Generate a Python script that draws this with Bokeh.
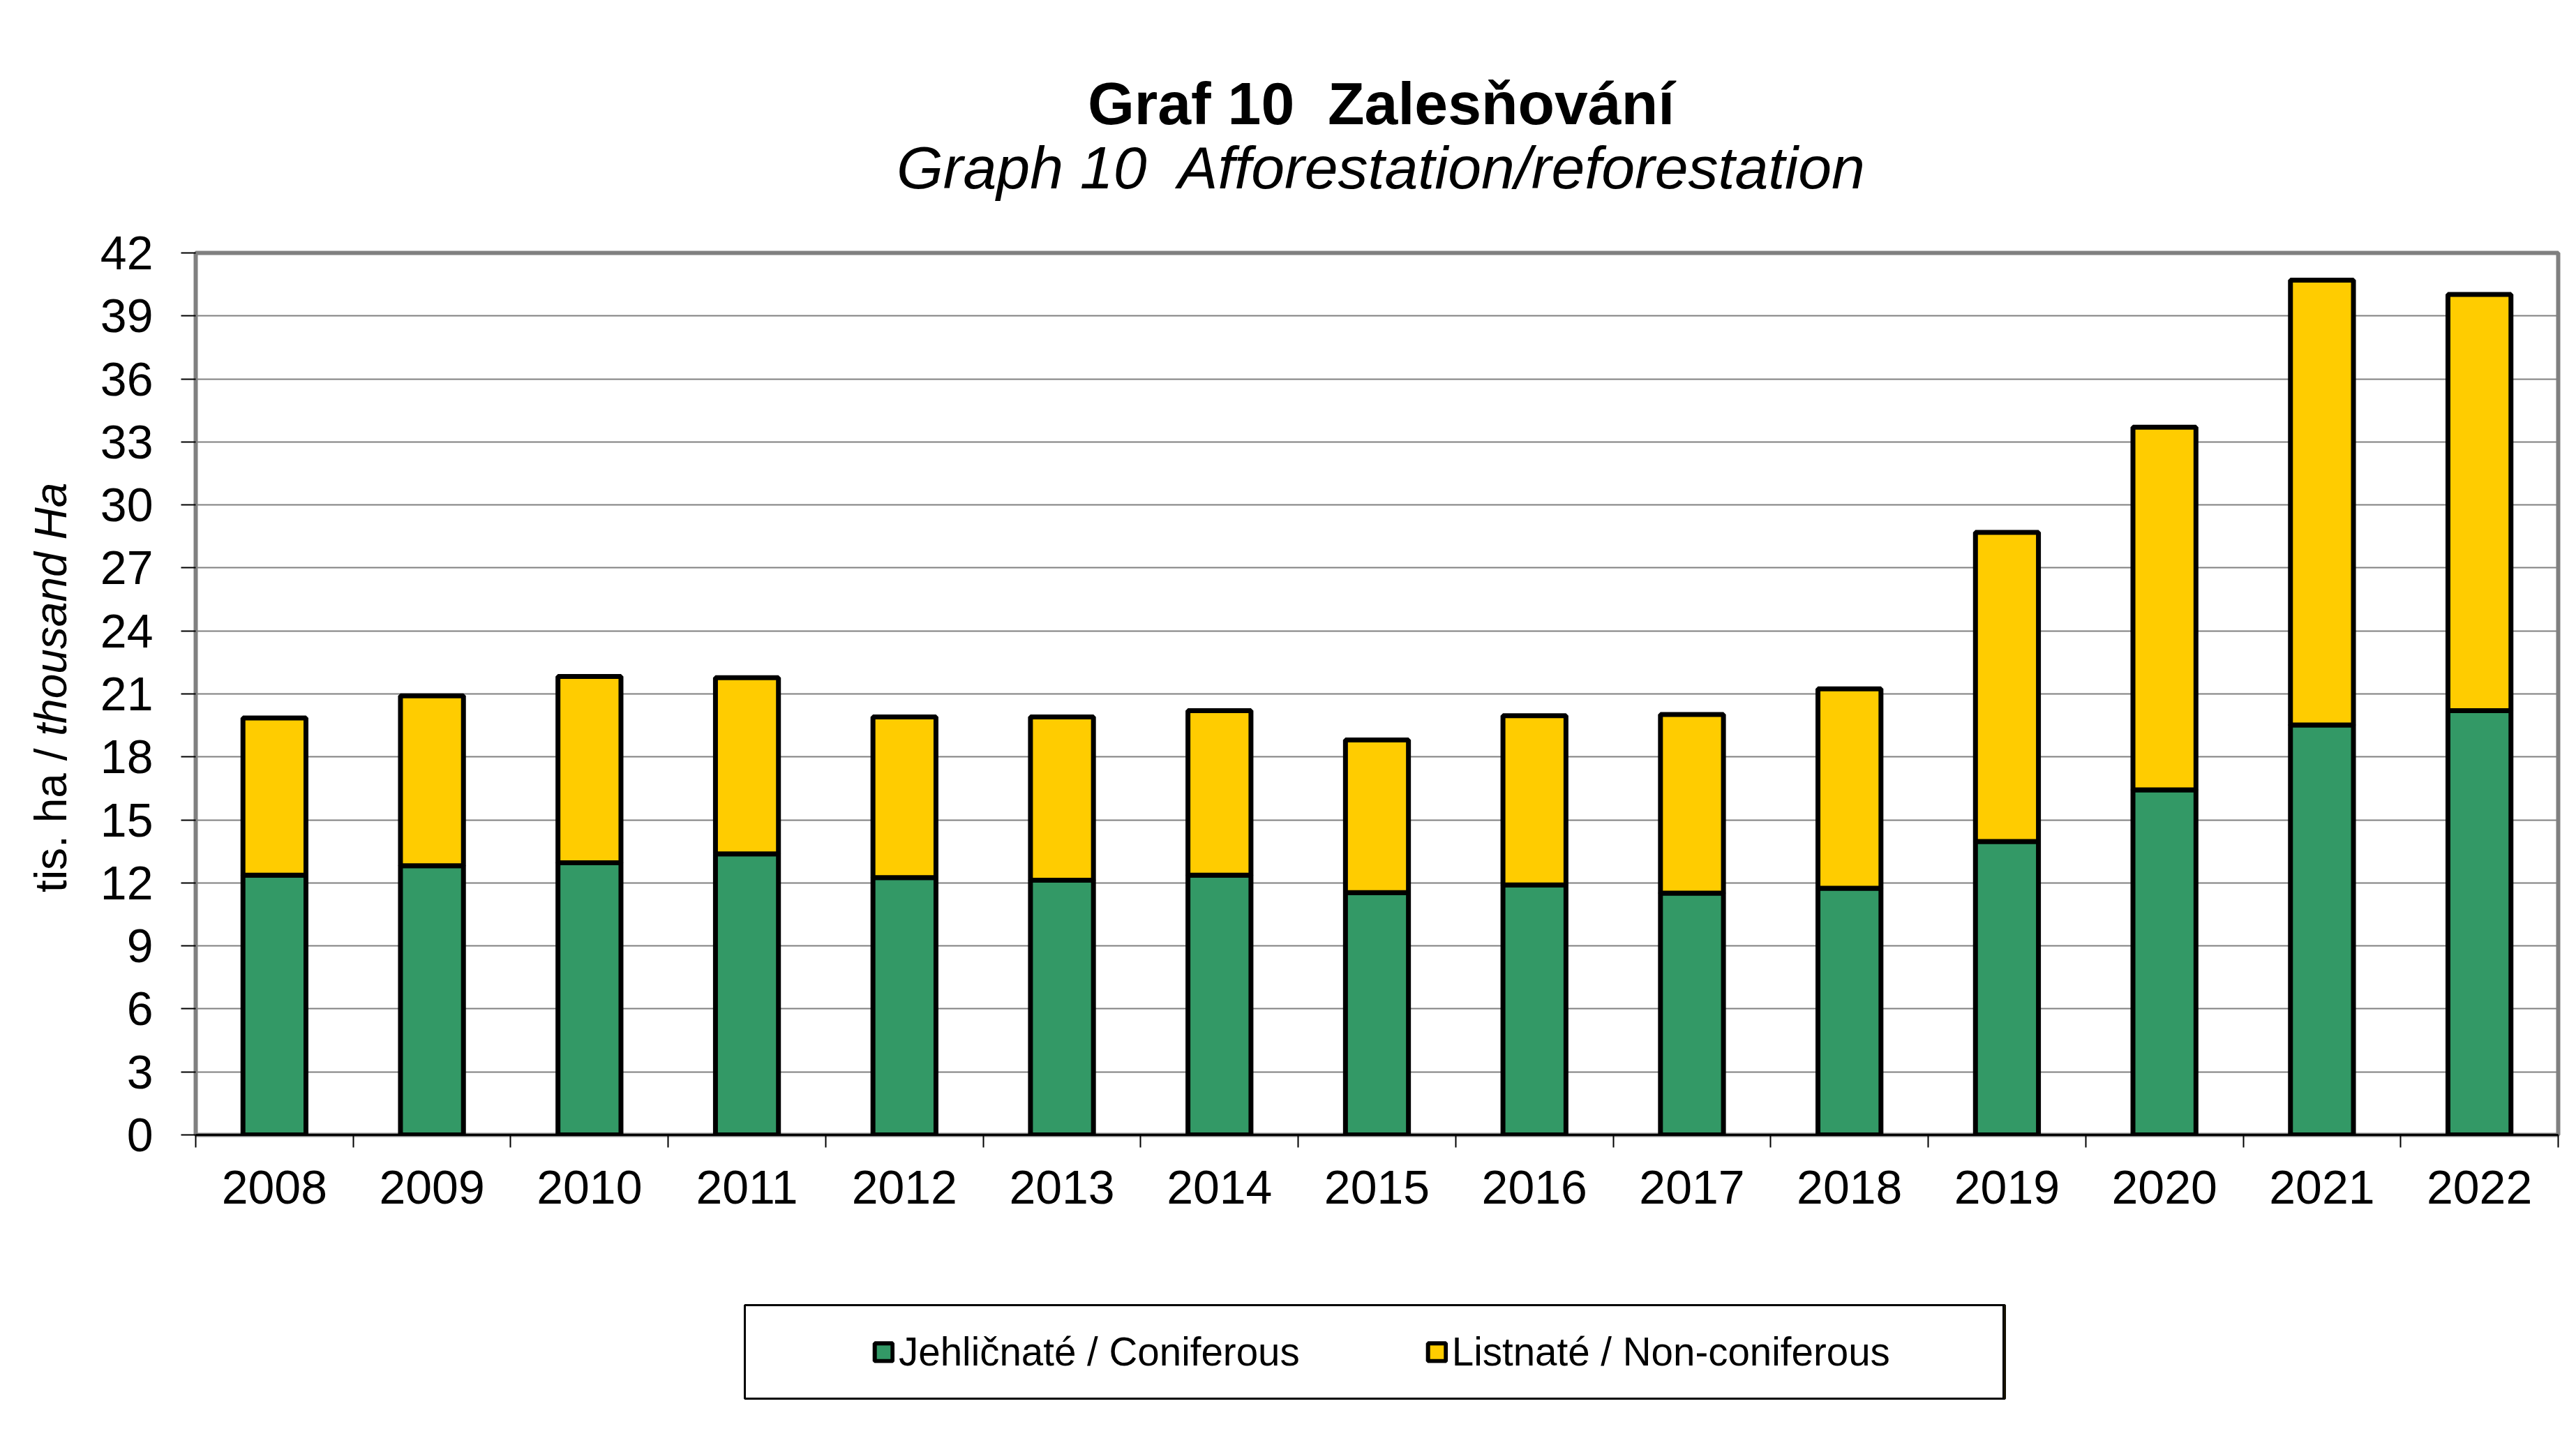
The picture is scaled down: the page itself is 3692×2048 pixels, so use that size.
import math
from bokeh.plotting import figure
from bokeh.models import (ColumnDataSource, Range1d, FixedTicker, Label,
                          Legend, LegendItem, Spacer)
from bokeh.layouts import column, row
from bokeh.embed import file_html
from bokeh.resources import INLINE

# ---- data (thousand ha) ----
years = [2008, 2009, 2010, 2011, 2012, 2013, 2014, 2015, 2016, 2017, 2018, 2019, 2020, 2021, 2022]
coniferous = [12.37, 12.82, 12.96, 13.38, 12.25, 12.13, 12.37, 11.54, 11.90, 11.51, 11.75, 13.97, 16.43, 19.52, 20.20]
non_coniferous = [7.48, 8.09, 8.87, 8.39, 7.65, 7.77, 7.83, 7.27, 8.06, 8.51, 9.49, 14.72, 17.27, 21.18, 19.82]
y_ticks = list(range(0, 43, 3))
series_labels = ["Jehličnaté / Coniferous", "Listnaté / Non-coniferous"]
colors = ["#339966", "#FFCC00"]
title_cz = "Graf 10\u00a0 Zalesňování"
title_en = "Graph 10\u00a0 Afforestation/reforestation"
ylabel_a = "tis. ha / "
ylabel_b = "thousand Ha"

FONT = "Liberation Sans"
W = 3692

src = ColumnDataSource(dict(year=years, con=coniferous, non=non_coniferous))
yr = Range1d(0, 42)


def strip(width, height, x_range, y_range, **kw):
    f = figure(width=width, height=height, output_backend="svg", toolbar_location=None,
               x_range=x_range, y_range=y_range, x_axis_location=None,
               y_axis_location=None, **kw)
    f.grid.visible = False
    f.outline_line_color = None
    return f


# ---- title strip (pixel coordinates, y downwards) ----
TH = 300
tf = strip(W, TH, Range1d(0, W), Range1d(TH, 0), min_border=0)
tf.add_layout(Label(x=1979, y=147, text=title_cz, text_font=FONT, text_font_size="86px",
                    text_font_style="bold", text_align="center", text_baseline="middle",
                    text_color="black"))
tf.add_layout(Label(x=1980, y=239, text=title_en, text_font=FONT, text_font_size="86px",
                    text_font_style="italic", text_align="center", text_baseline="middle",
                    text_color="black"))

TOP, BOTTOM = 362 - TH, 142
H = 1768 - TH
YLW = 140

p = figure(width=W - YLW, height=H, output_backend="svg", toolbar_location=None,
           x_range=Range1d(years[0] - 0.5, years[-1] + 0.5), y_range=yr,
           min_border_left=280 - YLW, min_border_right=26, min_border_top=TOP,
           min_border_bottom=BOTTOM)

p.vbar_stack(["con", "non"], x="year", width=0.4, source=src, fill_color=colors,
             line_color="black", line_width=7)

# frame and grid
p.outline_line_color = "#808080"
p.outline_line_width = 6
p.background_fill_color = "white"
p.border_fill_color = "white"
p.xgrid.visible = False
p.ygrid.grid_line_color = "#808080"
p.ygrid.grid_line_width = 2
p.ygrid.ticker = FixedTicker(ticks=y_ticks)

# y axis
ya = p.yaxis[0]
ya.ticker = FixedTicker(ticks=y_ticks)
ya.axis_line_color = None
ya.major_tick_line_color = "black"
ya.major_tick_line_width = 2
ya.major_tick_out = 21
ya.major_tick_in = 0
ya.minor_tick_line_color = None
ya.major_label_text_font = FONT
ya.major_label_text_font_size = "68px"
ya.major_label_text_color = "black"
ya.major_label_standoff = 40

# x axis: labels at years, ticks at category boundaries
xa = p.xaxis[0]
xa.ticker = FixedTicker(ticks=years, minor_ticks=[y - 0.5 for y in years] + [years[-1] + 0.5])
xa.axis_line_color = "black"
xa.axis_line_width = 3
xa.major_tick_line_color = None
xa.major_tick_out = 0
xa.major_tick_in = 0
xa.minor_tick_line_color = "black"
xa.minor_tick_line_width = 2
xa.minor_tick_out = 18
xa.minor_tick_in = 0
xa.major_label_text_font = FONT
xa.major_label_text_font_size = "68px"
xa.major_label_text_color = "black"
xa.major_label_standoff = 33

# y axis title in its own narrow strip (mixed upright / italic)
yl = strip(YLW, H, Range1d(0, YLW), yr, min_border_left=0, min_border_right=0,
           min_border_top=TOP, min_border_bottom=BOTTOM)
yl.add_layout(Label(x=72, y=11.55, angle=math.pi / 2, text=ylabel_a, text_font=FONT,
                    text_font_size="64px", text_align="left", text_baseline="middle",
                    text_color="black"))
yl.add_layout(Label(x=72, y=19.0, angle=math.pi / 2, text=ylabel_b, text_font=FONT,
                    text_font_size="64px", text_font_style="italic", text_align="left",
                    text_baseline="middle", text_color="black"))

# legend box as a separate small figure
lg = strip(1812, 140, Range1d(0, 1), Range1d(0, 1), min_border=3)
lg.outline_line_color = "black"
lg.outline_line_width = 3
r1 = lg.vbar(x="year", top="con", width=0.4, source=src, fill_color=colors[0],
             line_color="black", line_width=6)
r2 = lg.vbar(x="year", top="non", width=0.4, source=src, fill_color=colors[1],
             line_color="black", line_width=6)
legend = Legend(items=[LegendItem(label=series_labels[0], renderers=[r1]),
                       LegendItem(label=series_labels[1], renderers=[r2])],
                orientation="horizontal", location="left",
                label_text_font=FONT, label_text_font_size="56.5px", label_text_color="black",
                glyph_width=32, glyph_height=32, label_standoff=6, spacing=180,
                padding=0, margin=183, border_line_color=None, background_fill_alpha=0)
lg.add_layout(legend)

layout = column(tf, row(yl, p, spacing=0), Spacer(height=99),
                row(Spacer(width=1064), lg, spacing=0), spacing=0)

open("out.html", "w").write(file_html(layout, INLINE))
